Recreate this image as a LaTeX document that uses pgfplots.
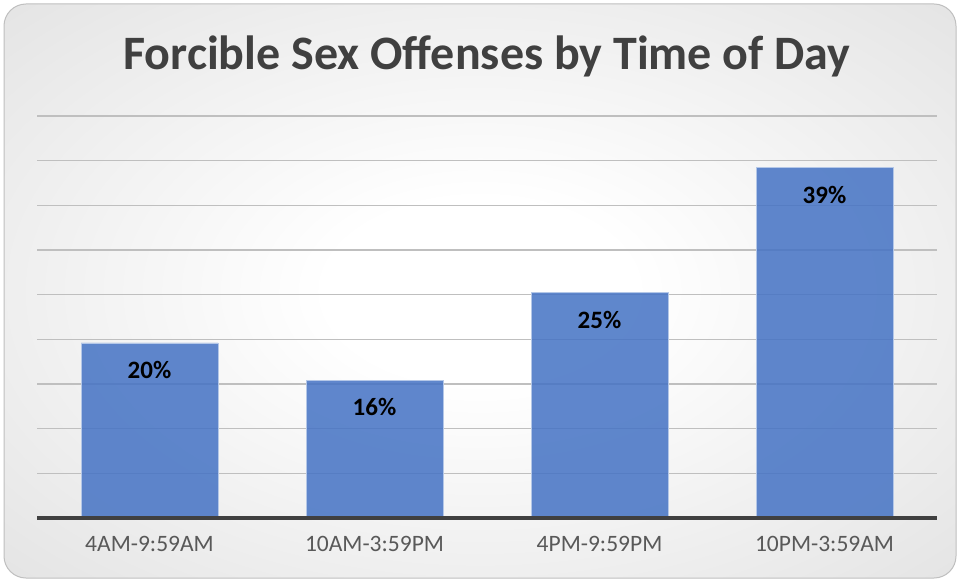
\documentclass[border=0pt]{standalone}
\usepackage{pgfplots}
\pgfplotsset{compat=1.18}
\usepackage{fontspec}
\setmainfont{Carlito}
\definecolor{barblue}{HTML}{4472C4}
\definecolor{titlegray}{HTML}{404040}
\definecolor{ticktext}{HTML}{595959}
\definecolor{gridgray}{HTML}{BFBFBF}
\definecolor{bgin}{HTML}{FFFFFF}
\definecolor{bgmid}{HTML}{D6D6D6}
\definecolor{bgout}{HTML}{BDBDBD}
\pgfdeclareradialshading{bgshade}{\pgfpoint{0bp}{0bp}}{color(0bp)=(bgin); color(8bp)=(bgin); color(50bp)=(bgmid); color(72bp)=(bgout)}
\begin{document}
\begin{tikzpicture}[x=1pt,y=1pt]
\path[use as bounding box] (0,0) rectangle (960,582);
\path[shading=bgshade, rounded corners=22pt, draw=gray!50, line width=1pt] (4,4) rectangle (956,578);
\node[font=\fontsize{48}{54}\selectfont\bfseries, text=titlegray] at (487,526) {Forcible Sex Offenses by Time of Day};
\begin{axis}[
  at={(37pt,64pt)}, anchor=south west,
  scale only axis, width=900pt, height=402pt,
  xmin=-0.5, xmax=3.5, ymin=0, ymax=45,
  axis line style={draw=none},
  ytick={0,5,...,45}, yticklabels={}, major tick length=0pt,
  ymajorgrids, grid style={gridgray, line width=1.2pt},
  xtick={0,1,2,3},
  xticklabels={4AM-9:59AM,10AM-3:59PM,4PM-9:59PM,10PM-3:59AM},
  xticklabel style={font=\fontsize{23.5}{27}\selectfont, text=ticktext, yshift=-15pt},
  ybar, bar width=137pt,
  point meta=explicit symbolic,
  nodes near coords,
  every node near coord/.append style={font=\fontsize{25}{29}\selectfont\bfseries, text=black, anchor=center, yshift=-27pt},
  clip=false,
]
\addplot[fill=barblue, fill opacity=0.85, draw=barblue!40, line width=0.8pt, text opacity=1] coordinates {
  (0,19.6) [20\%]
  (1,15.4) [16\%]
  (2,25.2) [25\%]
  (3,39.2) [39\%]
};
\draw[line width=3.5pt, titlegray] (axis cs:-0.5,0) -- (axis cs:3.5,0);
\end{axis}
\end{tikzpicture}
\end{document}
